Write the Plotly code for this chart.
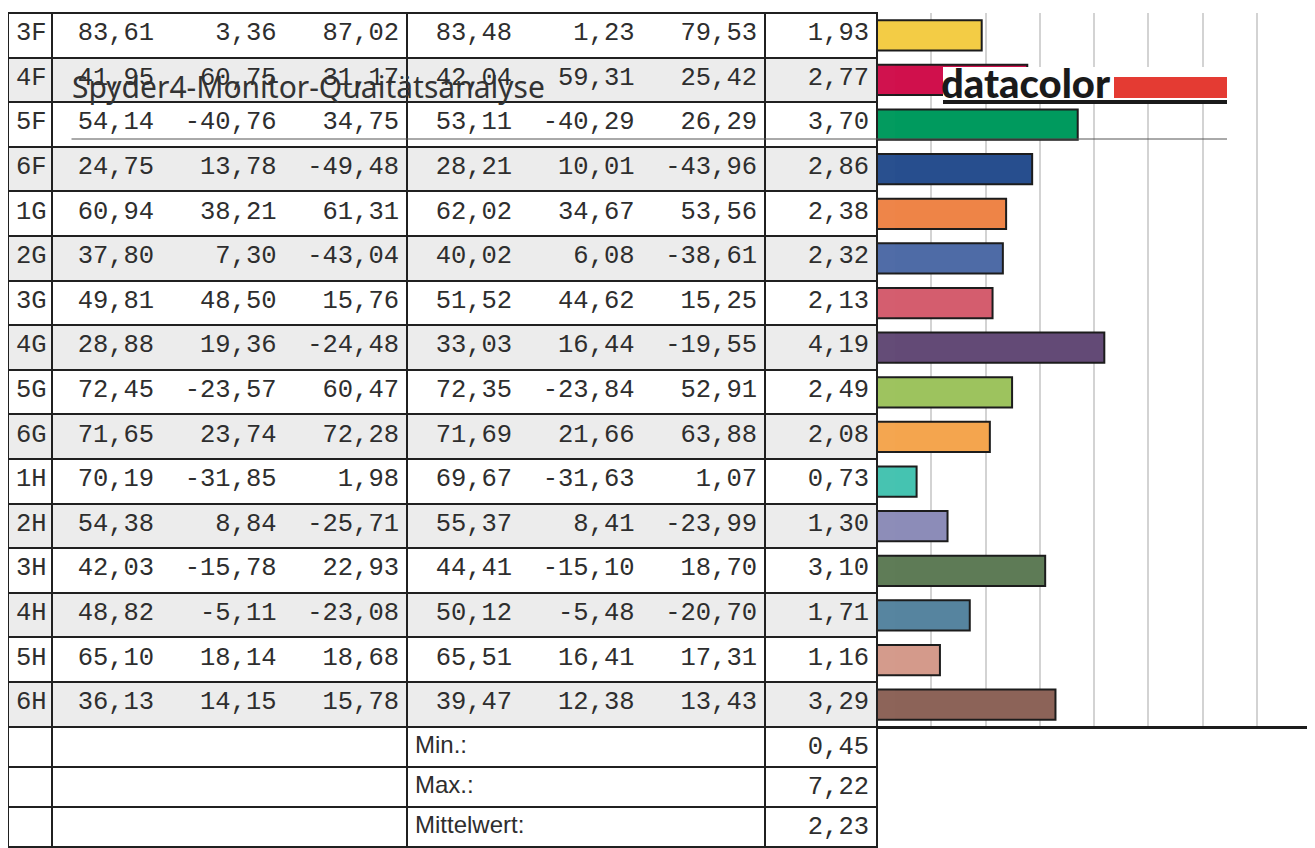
import plotly.graph_objects as go

W, H = 1315, 848
OFF = 8  # Seitenrand des Browsers (body margin)
FW, FH = W - OFF, H - OFF  # Figur passt so genau ins Fenster

# Messfelder (Patch-ID), Referenzwerte L*a*b*, gemessene Werte L*a*b*, Delta E
patch_ids = ["3F", "4F", "5F", "6F", "1G", "2G", "3G", "4G",
             "5G", "6G", "1H", "2H", "3H", "4H", "5H", "6H"]
ref_L = [83.61, 41.95, 54.14, 24.75, 60.94, 37.80, 49.81, 28.88,
         72.45, 71.65, 70.19, 54.38, 42.03, 48.82, 65.10, 36.13]
ref_a = [3.36, 60.75, -40.76, 13.78, 38.21, 7.30, 48.50, 19.36,
         -23.57, 23.74, -31.85, 8.84, -15.78, -5.11, 18.14, 14.15]
ref_b = [87.02, 31.17, 34.75, -49.48, 61.31, -43.04, 15.76, -24.48,
         60.47, 72.28, 1.98, -25.71, 22.93, -23.08, 18.68, 15.78]
meas_L = [83.48, 42.04, 53.11, 28.21, 62.02, 40.02, 51.52, 33.03,
          72.35, 71.69, 69.67, 55.37, 44.41, 50.12, 65.51, 39.47]
meas_a = [1.23, 59.31, -40.29, 10.01, 34.67, 6.08, 44.62, 16.44,
          -23.84, 21.66, -31.63, 8.41, -15.10, -5.48, 16.41, 12.38]
meas_b = [79.53, 25.42, 26.29, -43.96, 53.56, -38.61, 15.25, -19.55,
          52.91, 63.88, 1.07, -23.99, 18.70, -20.70, 17.31, 13.43]
delta_e = [1.93, 2.77, 3.70, 2.86, 2.38, 2.32, 2.13, 4.19,
           2.49, 2.08, 0.73, 1.30, 3.10, 1.71, 1.16, 3.29]
patch_colors = ["#f3cc45", "#d0104c", "#009a5e", "#274e8e", "#ee8447", "#4e6ba6",
                "#d45d6e", "#634a76", "#9dc35e", "#f4a54e", "#45c3b1", "#8c8cb8",
                "#5e7b56", "#56849f", "#d49a8b", "#8c6358"]

summary_labels = ["Min.:", "Max.:", "Mittelwert:"]
summary_values = [0.45, 7.22, 2.23]

NBSP = "\u00a0"


def px(x):
    return (x - OFF) / FW


def py(y):
    return 1 - (y - OFF) / FH


def de(v):
    return f"{v:.2f}".replace(".", ",")


def lab_cell(L, a, b):
    s = de(L).rjust(6) + de(a).rjust(8) + de(b).rjust(8)
    return s.replace(" ", NBSP)


col_ref = [lab_cell(L, a, b) for L, a, b in zip(ref_L, ref_a, ref_b)]
col_meas = [lab_cell(L, a, b) for L, a, b in zip(meas_L, meas_a, meas_b)]
col_de = [de(v) for v in delta_e]
row_fill = ["#ffffff" if i % 2 == 0 else "#ececec" for i in range(len(patch_ids))]

mono = "Liberation Mono"
txt_col = "#2e2e2e"
grid_line = dict(color="#202020", width=2)
col_w = [44, 355, 358, 112]

fig = go.Figure()

# Tabelle mit den Messwerten (erste Zeile = Kopfzeile, gleich formatiert)
table_cols = [patch_ids, col_ref, col_meas, col_de]
fig.add_trace(go.Table(
    domain=dict(x=[px(8), px(877)], y=[py(728), py(13)]),
    columnwidth=col_w,
    header=dict(
        values=[c[0] for c in table_cols],
        align=["left", "right", "right", "right"],
        height=44.6,
        font=dict(family=mono, size=25.5, color=txt_col),
        fill_color=row_fill[0],
        line=grid_line,
    ),
    cells=dict(
        values=[c[1:] for c in table_cols],
        align=["left", "right", "right", "right"],
        height=44.6,
        font=dict(family=mono, size=25.5, color=txt_col),
        fill_color=[row_fill[1:]] * 4,
        line=grid_line,
    ),
))

# Zusammenfassung
sum_cols = [[""] * 3, [""] * 3, summary_labels, [de(v) for v in summary_values]]
sum_font = dict(family=[mono, mono, "Liberation Sans", mono],
                size=[25.5, 25.5, 24, 25.5], color=txt_col)
fig.add_trace(go.Table(
    domain=dict(x=[px(8), px(877)], y=[0, py(727)]),
    columnwidth=col_w,
    header=dict(
        values=[c[0] for c in sum_cols],
        align=["left", "left", "left", "right"],
        height=40, font=sum_font, fill_color="#ffffff", line=grid_line,
    ),
    cells=dict(
        values=[c[1:] for c in sum_cols],
        align=["left", "left", "left", "right"],
        height=40, font=sum_font, fill_color="#ffffff", line=grid_line,
    ),
))

# Balken Delta E
fig.add_trace(go.Bar(
    x=delta_e, y=patch_ids, orientation="h",
    width=0.68,
    marker=dict(color=patch_colors, line=dict(color="#1c1c1c", width=2)),
    hovertemplate="%{y}: %{x}<extra></extra>",
    showlegend=False,
))

fig.update_layout(
    width=FW, height=FH,
    margin=dict(l=0, r=0, t=0, b=0),
    paper_bgcolor="white",
    plot_bgcolor="white",
    title=dict(
        text="Spyder4-Monitor-Quaitätsanalyse",
        x=px(72), xanchor="left", xref="container",
        y=py(87), yanchor="middle", yref="container",
        font=dict(family="Noto Sans", size=30, color="#333333"),
    ),
    xaxis=dict(
        domain=[px(877), px(1311)], range=[0, 8], dtick=1,
        showgrid=True, gridcolor="#d3d3d3", gridwidth=2,
        zeroline=False, showticklabels=False, ticks="",
        showline=True, linecolor="#1c1c1c", linewidth=2,
    ),
    yaxis=dict(
        domain=[py(727), py(13)],
        categoryorder="array", categoryarray=patch_ids,
        autorange="reversed",
        showgrid=False, zeroline=False, showticklabels=False, ticks="",
        showline=False,
    ),
)

# rechter Rand des Diagrammbereichs
fig.add_shape(type="line", xref="paper", yref="paper",
              x0=px(1311), x1=px(1311), y0=0, y1=1,
              line=dict(color="#aaaaaa", width=3), layer="above")
# Grundlinie bis zum Bildrand
fig.add_shape(type="line", xref="paper", yref="paper",
              x0=px(877), x1=1, y0=py(727), y1=py(727),
              line=dict(color="#1c1c1c", width=2), layer="above")

# datacolor-Logo
fig.add_shape(type="rect", xref="paper", yref="paper",
              x0=px(943), x1=px(1227), y0=py(104), y1=py(67),
              fillcolor="white", line_width=0, layer="above")
fig.add_shape(type="rect", xref="paper", yref="paper",
              x0=px(1114), x1=px(1227), y0=py(98), y1=py(77),
              fillcolor="#e43b33", line_width=0, layer="above")
fig.add_shape(type="rect", xref="paper", yref="paper",
              x0=px(943), x1=px(1227), y0=py(104), y1=py(100),
              fillcolor="#1a1a1a", line_width=0, layer="above")
fig.add_annotation(
    text="datacolor", xref="paper", yref="paper",
    x=px(939), xanchor="left", y=py(109), yanchor="bottom",
    showarrow=False,
    font=dict(family="Lato", size=40, color="#1a1a1a", weight=900),
)
fig.add_annotation(
    text=" ", xref="paper", yref="paper",
    x=px(1227), y=py(139), ax=-1157, ay=0,
    showarrow=True, arrowhead=0, arrowwidth=1, arrowcolor="#555555",
    standoff=0, startstandoff=0, font=dict(size=1),
)

fig.write_html("out.html")
